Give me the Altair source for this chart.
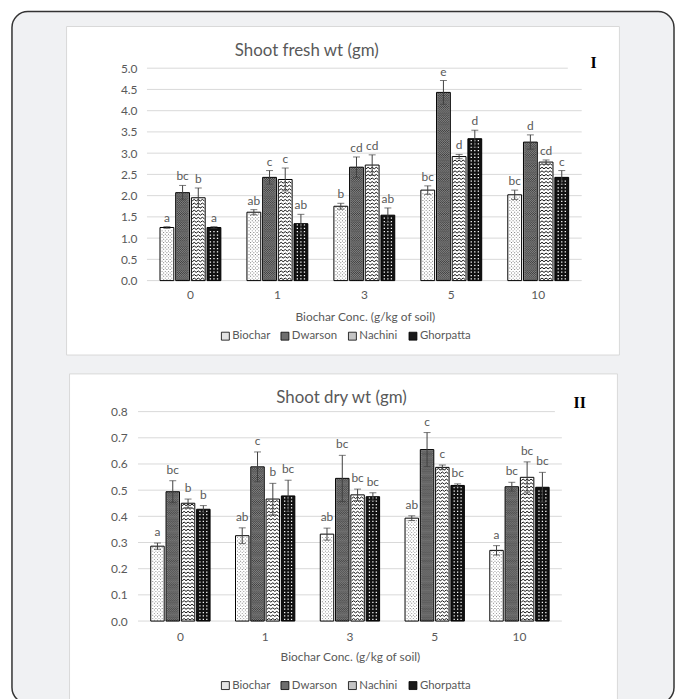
import altair as alt
import pandas as pd

# ---------------- data ----------------
concs = ["0", "1", "3", "5", "10"]
groups = ["Biochar", "Dwarson", "Nachini", "Ghorpatta"]

fresh_biochar = [1.25, 1.61, 1.75, 2.13, 2.02]
fresh_dwarson = [2.07, 2.43, 2.67, 4.43, 3.26]
fresh_nachini = [1.95, 2.38, 2.72, 2.92, 2.79]
fresh_ghorpatta = [1.25, 1.34, 1.54, 3.34, 2.43]

fresh_err_biochar = [0.02, 0.06, 0.07, 0.10, 0.11]
fresh_err_dwarson = [0.17, 0.16, 0.24, 0.28, 0.17]
fresh_err_nachini = [0.23, 0.27, 0.24, 0.05, 0.05]
fresh_err_ghorpatta = [0.02, 0.22, 0.17, 0.20, 0.16]

fresh_sig_biochar = ["a", "ab", "b", "bc", "bc"]
fresh_sig_dwarson = ["bc", "c", "cd", "e", "d"]
fresh_sig_nachini = ["b", "c", "cd", "d", "cd"]
fresh_sig_ghorpatta = ["a", "ab", "ab", "d", "c"]

dry_biochar = [0.286, 0.326, 0.332, 0.393, 0.270]
dry_dwarson = [0.494, 0.589, 0.545, 0.655, 0.513]
dry_nachini = [0.450, 0.466, 0.482, 0.587, 0.549]
dry_ghorpatta = [0.427, 0.478, 0.475, 0.518, 0.511]

dry_err_biochar = [0.012, 0.030, 0.023, 0.009, 0.018]
dry_err_dwarson = [0.042, 0.057, 0.088, 0.065, 0.017]
dry_err_nachini = [0.016, 0.060, 0.022, 0.009, 0.059]
dry_err_ghorpatta = [0.014, 0.060, 0.015, 0.006, 0.057]

dry_sig_biochar = ["a", "ab", "ab", "ab", "a"]
dry_sig_dwarson = ["bc", "c", "bc", "c", "bc"]
dry_sig_nachini = ["b", "b", "bc", "c", "bc"]
dry_sig_ghorpatta = ["b", "bc", "bc", "bc", "bc"]

fresh_ticks = [0.0, 0.5, 1.0, 1.5, 2.0, 2.5, 3.0, 3.5, 4.0, 4.5, 5.0]
dry_ticks = [0.0, 0.1, 0.2, 0.3, 0.4, 0.5, 0.6, 0.7, 0.8]

# ---------------- styling ----------------
FONT = "Lato"
GRAY = "#595959"
GRID = "#d9d9d9"
BG = "#f0f1f3"
fills = ["#ffffff", "#7d7d7d", "#ffffff", "#111111"]
legend_fills = ["#e4e4e4", "#6e6e6e", "#c4c4c4", "#1a1a1a"]
legend_sym_x = [84, 144, 212, 273]  # legend item positions (px from plot left)


def dots(xs, ys, h):
    return " ".join(f"M{x - h:.3f},{y - h:.3f}h{2 * h:.3f}v{2 * h:.3f}h{-2 * h:.3f}z"
                    for x in xs for y in ys)


# pattern glyphs: custom symbol paths in the [-1, 1] box (scaled to the bar width)
PAT_BIOCHAR = (dots([-0.75, -0.25, 0.25, 0.75], [-0.12], 0.07) + " " +
               dots([-0.5, 0.0, 0.5], [0.12], 0.07))
PAT_DWARSON = (dots([-0.8, -0.48, -0.16, 0.16, 0.48, 0.8], [-0.08], 0.07) + " " +
               dots([-0.64, -0.32, 0.0, 0.32, 0.64], [0.08], 0.07))
PAT_NACHINI = "M-0.95,0.12L-0.63,-0.12L-0.32,0.12L0,-0.12L0.32,0.12L0.63,-0.12L0.95,0.12"
PAT_GHORPATTA = dots([-0.55, 0.0, 0.55], [0.0], 0.1)


def build_df(means, errs, sigs):
    rows = []
    for g, m, e, s in zip(groups, means, errs, sigs):
        for c, mv, ev, sv in zip(concs, m, e, s):
            rows.append({"conc": c, "group": g, "value": mv, "err": ev, "sig": sv})
    df = pd.DataFrame(rows)
    df["lo"] = df["value"] - df["err"]
    df["hi"] = df["value"] + df["err"]
    return df


fresh_df = build_df(
    [fresh_biochar, fresh_dwarson, fresh_nachini, fresh_ghorpatta],
    [fresh_err_biochar, fresh_err_dwarson, fresh_err_nachini, fresh_err_ghorpatta],
    [fresh_sig_biochar, fresh_sig_dwarson, fresh_sig_nachini, fresh_sig_ghorpatta],
)
dry_df = build_df(
    [dry_biochar, dry_dwarson, dry_nachini, dry_ghorpatta],
    [dry_err_biochar, dry_err_dwarson, dry_err_nachini, dry_err_ghorpatta],
    [dry_sig_biochar, dry_sig_dwarson, dry_sig_nachini, dry_sig_ghorpatta],
)
conc_df = pd.DataFrame({"conc": concs})
one = pd.DataFrame({"k": [0]})


def deco_rect(x, x2, y, y2, **kw):
    return alt.Chart(one).mark_rect(**kw).encode(
        x=alt.value(x), x2=alt.value(x2), y=alt.value(y), y2=alt.value(y2)
    )


def deco_text(txt, x, y, **kw):
    return alt.Chart(one).mark_text(text=txt, **kw).encode(x=alt.value(x), y=alt.value(y))


def panel(df, width, height, ymax, ticks, xscale, ylabelpad, grid_x, top_x2, title,
          title_xy, roman, roman_xy, xtitle_xy, legend_y, xlabel_y, sig_dy, box, barw,
          frame=None):
    yscale = alt.Scale(domain=[0, ymax], nice=False, zero=True)
    px = ymax / height  # data units per pixel (texture row spacing)
    xenc = alt.X("conc:N", sort=concs, scale=xscale, axis=None)
    xoff = alt.XOffset("group:N", sort=groups,
                       scale=alt.Scale(domain=groups, paddingInner=0.12, paddingOuter=0))
    yaxis = alt.Axis(title=None, values=ticks, format=".1f", ticks=False, domain=False,
                     grid=False, labelColor=GRAY, labelFontSize=12, labelFont=FONT,
                     labelPadding=ylabelpad, zindex=1)

    def Y(field):
        return alt.Y(field, scale=yscale, axis=yaxis)

    layers = []
    if frame is not None:
        layers.append(deco_rect(*frame, fill=BG, stroke="#333333", strokeWidth=1.5,
                                cornerRadius=16))
    layers.append(deco_rect(*box, fill="white", stroke=GRID, strokeWidth=1))

    gdf = pd.DataFrame({"t": ticks[:-1]})
    layers.append(alt.Chart(gdf).mark_rule(color=GRID, strokeWidth=1).encode(
        y=Y("t:Q"), x=alt.value(grid_x[0]), x2=alt.value(grid_x[1])))
    tdf = pd.DataFrame({"t": ticks[-1:]})
    layers.append(alt.Chart(tdf).mark_rule(color=GRID, strokeWidth=1).encode(
        y=Y("t:Q"), x=alt.value(grid_x[0]), x2=alt.value(top_x2)))

    bars = alt.Chart(df).mark_bar(strokeWidth=0).encode(
        x=xenc, xOffset=xoff, y=Y("value:Q"),
        fill=alt.Fill("group:N", sort=groups,
                      scale=alt.Scale(domain=groups, range=fills), legend=None),
    )
    layers.append(bars)

    def texture(group, path, color, step_px, filled=True):
        s = step_px * px
        ch = alt.Chart(df).transform_filter(
            alt.datum.group == group
        ).transform_calculate(
            seq=f"sequence({s / 2}, datum.value - {s / 3}, {s})"
        ).transform_flatten(["seq"])
        if filled:
            mk = ch.mark_point(shape=path, size=barw * barw, filled=True, color=color,
                               opacity=1, strokeWidth=0)
        else:
            mk = ch.mark_point(shape=path, size=barw * barw, filled=False, color=color,
                               opacity=1, strokeWidth=1)
        return mk.encode(x=xenc, xOffset=xoff, y=Y("seq:Q"))

    layers.append(texture("Biochar", PAT_BIOCHAR, "#6e6e6e", 3.4))
    layers.append(texture("Dwarson", PAT_DWARSON, "#3a3a3a", 2.2))
    layers.append(texture("Nachini", PAT_NACHINI, "#111111", 3.6, filled=False))
    layers.append(texture("Ghorpatta", PAT_GHORPATTA, "#ffffff", 3.4))

    outline = alt.Chart(df).mark_bar(fillOpacity=0, stroke="black", strokeWidth=1).encode(
        x=xenc, xOffset=xoff, y=Y("value:Q"))
    layers.append(outline)

    err = alt.Chart(df).mark_rule(color="#404040", strokeWidth=1).encode(
        x=xenc, xOffset=xoff, y=Y("lo:Q"), y2="hi:Q")
    cap_hi = alt.Chart(df).mark_tick(color="#404040", thickness=1, size=7,
                                     orient="horizontal").encode(
        x=xenc, xOffset=xoff, y=Y("hi:Q"))
    cap_lo = alt.Chart(df).mark_tick(color="#404040", thickness=1, size=7,
                                     orient="horizontal").encode(
        x=xenc, xOffset=xoff, y=Y("lo:Q"))
    sig = alt.Chart(df).mark_text(color=GRAY, fill=GRAY, fontSize=12, font=FONT, dy=sig_dy,
                                  baseline="alphabetic").encode(
        x=xenc, xOffset=xoff, y=Y("hi:Q"), text="sig:N")
    layers += [err, cap_hi, cap_lo, sig]

    # category labels under each group of bars
    layers.append(alt.Chart(conc_df).mark_text(
        color=GRAY, fill=GRAY, fontSize=12, font=FONT, baseline="middle", align="center"
    ).encode(x=xenc, y=alt.value(xlabel_y), text="conc:N"))

    # legend
    for i, g in enumerate(groups):
        sx = legend_sym_x[i]
        layers.append(deco_rect(sx, sx + 8, legend_y - 4, legend_y + 4,
                                fill=legend_fills[i], stroke="black", strokeWidth=0.8))
        layers.append(deco_text(g, sx + 11, legend_y, fontSize=11.5, font=FONT, color=GRAY,
                                align="left", baseline="middle"))

    layers.append(deco_text(title, title_xy[0], title_xy[1], fontSize=17, font=FONT,
                            color=GRAY, align="center", baseline="middle"))
    layers.append(deco_text(roman, roman_xy[0], roman_xy[1], fontSize=16,
                            font="Liberation Serif", fontWeight="bold", color="black",
                            align="center", baseline="middle"))
    layers.append(deco_text("Biochar Conc. (g/kg of soil)", xtitle_xy[0], xtitle_xy[1],
                            fontSize=12, font=FONT, color=GRAY, align="center",
                            baseline="middle"))
    return alt.layer(*layers).properties(width=width, height=height)


# panel I: plot origin at page (138, 68); its bars start 9px in
p1 = panel(
    fresh_df, 447, 214, 5.0, fresh_ticks,
    alt.Scale(paddingInner=0.3, paddingOuter=0.2014, align=0.6276),
    ylabelpad=1, grid_x=(9, 447), top_x2=433,
    title="Shoot fresh wt (gm)", title_xy=(170, -17),
    roman="I", roman_xy=(459, -5), xtitle_xy=(229, 251), legend_y=270,
    xlabel_y=229, sig_dy=-5,
    box=(-72, 485, -42, 289), barw=13,
    frame=(-127, 540, -57, 640),
)

p2 = panel(
    dry_df, 427, 211, 0.8, dry_ticks,
    alt.Scale(paddingInner=0.3, paddingOuter=0.15),
    ylabelpad=11, grid_x=(0, 427), top_x2=420,
    title="Shoot dry wt (gm)", title_xy=(205, -14),
    roman="II", roman_xy=(445, -9), xtitle_xy=(214, 247), legend_y=276,
    xlabel_y=227, sig_dy=-7,
    box=(-69, 483, -38, 300), barw=12.6,
)

chart = alt.vconcat(p1, p2, spacing=132, bounds="flush").resolve_scale(
    y="independent", fill="independent", x="independent", xOffset="independent"
).properties(
    padding={"left": 3, "top": 0, "right": 0, "bottom": 0}
).configure(font=FONT, background="white").configure_view(stroke=None)

chart.save("out.html", embed_options={"renderer": "svg", "actions": False})
